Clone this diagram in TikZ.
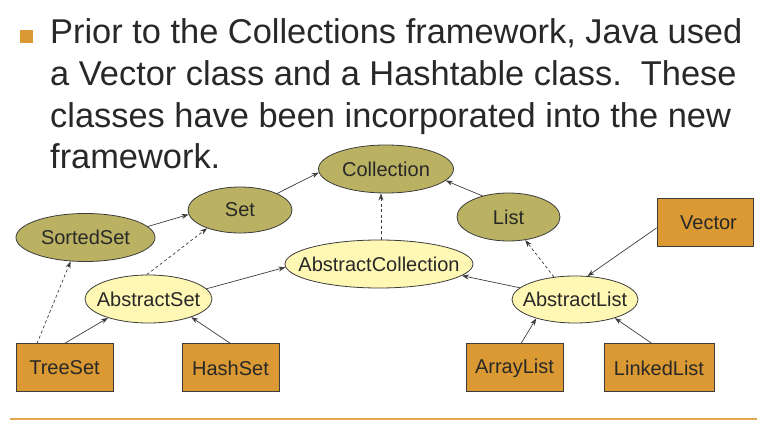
\documentclass[tikz,border=0pt]{standalone}
\usepackage{fontspec}
\setmainfont{Liberation Sans}
\usetikzlibrary{shapes.geometric,arrows.meta,calc}
\definecolor{olive}{RGB}{186,178,98}
\definecolor{paleyel}{RGB}{255,247,180}
\definecolor{boxorange}{RGB}{218,153,50}
\definecolor{lineorange}{RGB}{226,168,80}
\definecolor{txt}{RGB}{40,40,40}
\definecolor{edge}{RGB}{60,60,60}
\tikzset{
  nodefont/.style={text=txt,font=\fontsize{20}{24}\selectfont},
  iface/.style={ellipse,draw=edge,line width=0.8pt,fill=olive,inner sep=0pt,
    label={[nodefont]center:#1}},
  absclass/.style={ellipse,draw=edge,line width=0.8pt,fill=paleyel,inner sep=0pt,
    label={[nodefont]center:#1}},
  concrete/.style={rectangle,draw=edge,line width=1pt,fill=boxorange,inner sep=0pt,nodefont,minimum height=48pt},
  titleline/.style={anchor=base west,inner sep=0pt,text=txt,font=\fontsize{34.4}{40}\selectfont},
  ext/.style={draw=edge,line width=0.7pt,-{Stealth[length=7pt,width=5pt]}},
  impl/.style={ext,dash pattern=on 3pt off 2.5pt}
}
\begin{document}
\begin{tikzpicture}[x=1pt,y=-1pt]
\useasboundingbox (0,0) rectangle (780,446);
% bullet and title
\fill[boxorange] (20,30) rectangle (33,43);
\node[titleline] (t1) at (50,43.3) {Prior to the Collections framework, Java used};
\node[titleline] (t2) at (50,85.2) {a Vector class and a Hashtable class.\ \ These};
\node[titleline] (t3) at (50,127.1) {classes have been incorporated into the new};
\node[titleline] (t4) at (50,169) {framework.};
% interfaces
\node[iface=Collection,minimum width=135pt,minimum height=48pt] (coll) at (386,169) {};
\node[iface=Set,minimum width=104pt,minimum height=46pt] (set) at (240,210) {};
\node[iface=SortedSet,minimum width=139pt,minimum height=48pt] (sset) at (85.5,237.5) {};
\node[iface=List,minimum width=103pt,minimum height=48pt] (list) at (508.5,217) {};
% abstract classes
\node[absclass=AbstractCollection,minimum width=188pt,minimum height=48pt] (acoll) at (379,264) {};
\node[absclass=AbstractSet,minimum width=127pt,minimum height=48pt] (aset) at (148.5,299) {};
\node[absclass=AbstractList,minimum width=126pt,minimum height=47pt] (alist) at (575,299.5) {};
% concrete classes
\node[concrete,minimum width=96pt] (vector) at (705,223) {\hspace*{7pt}Vector};
\node[concrete,minimum width=97pt] (treeset) at (64.5,368) {TreeSet};
\node[concrete,minimum width=97pt] (hashset) at (230.5,368) {HashSet};
\node[concrete,minimum width=97pt] (arraylist) at (514.5,368) {ArrayList};
\node[concrete,minimum width=110pt] (linkedlist) at (659,368) {LinkedList};
% connectors
\draw[ext] (set.24) -- (coll.183);
\draw[ext] (sset.10.4) -- (set.185.5);
\draw[impl] (aset.94) -- (set.209);
\draw[impl] ($(treeset.north)+(-27.5,0)$) -- (sset.238.7);
\draw[ext] (treeset.north) -- (aset.205.8);
\draw[ext] (hashset.north) -- (aset.337.4);
\draw[ext] (aset.10) -- (acoll.182);
\draw[impl] ($(acoll.north)+(2,0)$) -- ($(coll.south)+(-5,0)$);
\draw[ext] (list.141.8) -- (coll.349);
\draw[ext] (alist.168.8) -- (acoll.352);
\draw[impl] (alist.133) -- (list.306.5);
\draw[ext] ($(vector.west)+(0,5)$) -- (alist.62);
\draw[ext] ($(arraylist.north)+(6.5,0)$) -- (alist.206.6);
\draw[ext] ($(linkedlist.north)+(-7,0)$) -- (alist.335.5);
% bottom rule
\draw[lineorange,line width=2pt] (10,419) -- (757,419);
\end{tikzpicture}
\end{document}
